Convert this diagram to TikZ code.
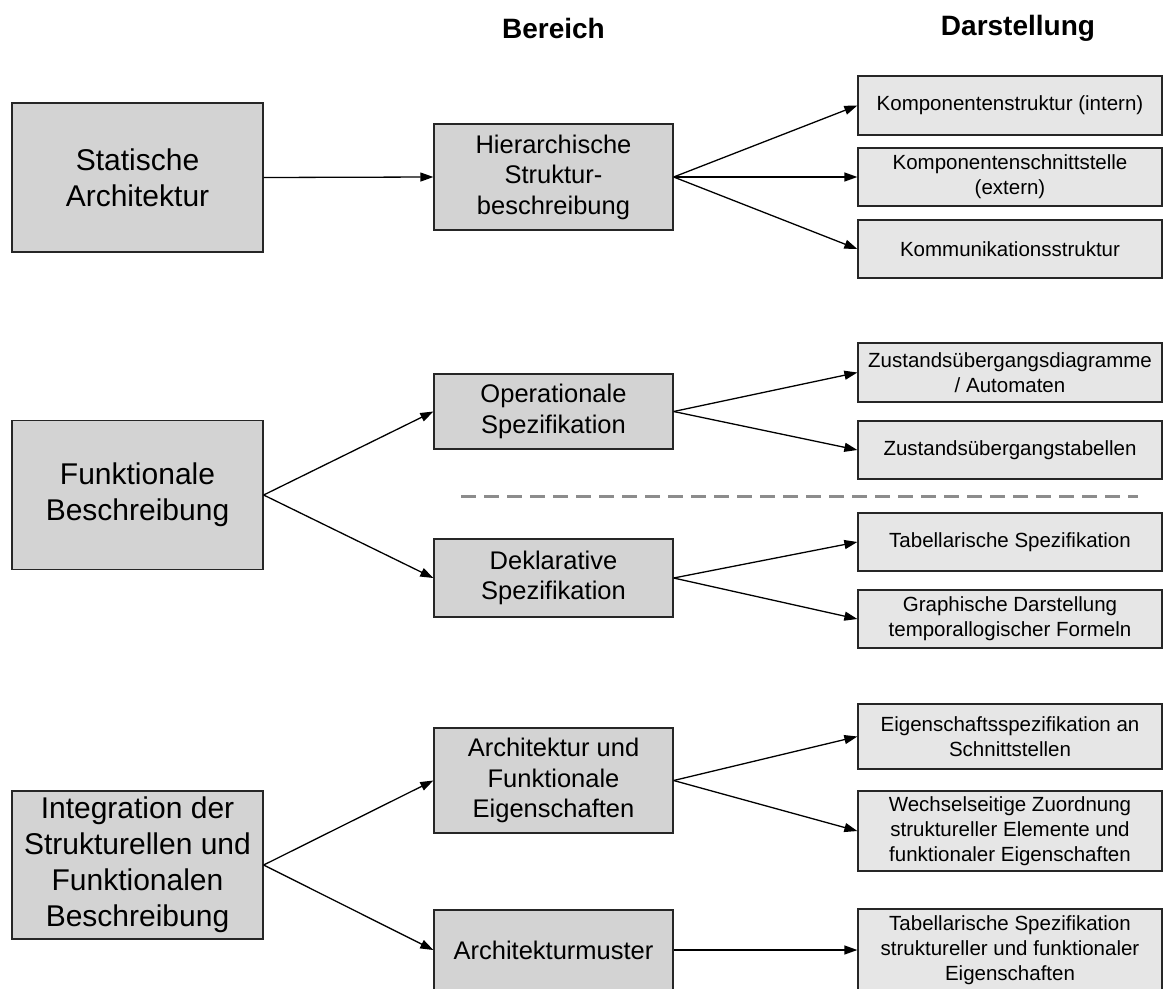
\documentclass[tikz,border=0pt]{standalone}
\usepackage{fontspec}
\setmainfont{Liberation Sans}
\usetikzlibrary{arrows.meta}
\definecolor{boxA}{RGB}{211,211,211}
\definecolor{boxB}{RGB}{230,230,230}
\definecolor{dashgray}{RGB}{140,140,140}
\tikzset{
  bigbox/.style={draw=black!85, line width=1.3pt, fill=boxA, minimum width=251pt, align=center, inner sep=0pt, font=\fontsize{30}{36}\selectfont},
  midbox/.style={draw=black!85, line width=1.3pt, fill=boxA, minimum width=239pt, align=center, inner sep=0pt, font=\fontsize{25.5}{30.5}\selectfont},
  repbox/.style={draw=black!85, line width=1.3pt, fill=boxB, minimum width=304pt, align=center, inner sep=0pt, font=\fontsize{20.5}{25}\selectfont},
  head/.style={font=\fontsize{28}{32}\selectfont\bfseries},
  conn/.style={line width=1.3pt, -{Triangle[length=13pt,width=9pt]}},
  sep/.style={draw=dashgray, line width=3pt, dash pattern=on 15pt off 8pt}
}
\begin{document}
\begin{tikzpicture}[x=1pt,y=-1pt]
\useasboundingbox (0,0) rectangle (1172,988);
% headers
\node[head] (hb) at (553.5,28) {Bereich};
\node[head] (hd) at (1018,28) {Darstellung};
% left boxes
\node[bigbox, minimum height=149pt] (sa) at (137.5,177.5) {Statische\\Architektur};
\node[bigbox, minimum height=149pt] (fb) at (137.5,495) {Funktionale\\Beschreibung};
\node[bigbox, minimum height=148pt] (ib) at (137.5,865) {Integration der\\Strukturellen und\\Funktionalen\\Beschreibung};
% middle boxes
\node[midbox, minimum height=106pt] (hs) at (553.5,177) {Hierarchische\\Struktur-\\beschreibung};
\node[midbox, minimum height=75pt] (os) at (553.5,411.5) {Operationale\\Spezifikation};
\node[midbox, minimum height=78pt] (ds) at (553.5,578) {Deklarative\\Spezifikation};
\node[midbox, minimum height=105pt] (af) at (553.5,780.5) {Architektur und\\Funktionale\\Eigenschaften};
\node[midbox, minimum height=80pt] (am) at (553.5,950) {Architekturmuster};
% right boxes
\node[repbox, minimum height=59pt] (r1) at (1010,105.5) {Komponentenstruktur (intern)};
\node[repbox, minimum height=58pt] (r2) at (1010,177) {Komponentenschnittstelle\\(extern)};
\node[repbox, minimum height=58pt] (r3) at (1010,249) {Kommunikationsstruktur};
\node[repbox, minimum height=59pt] (r4) at (1010,372.5) {Zustandsübergangsdiagramme\\/ Automaten};
\node[repbox, minimum height=58pt] (r5) at (1010,450) {Zustandsübergangstabellen};
\node[repbox, minimum height=58pt] (r6) at (1010,542) {Tabellarische Spezifikation};
\node[repbox, minimum height=58pt] (r7) at (1010,619) {Graphische Darstellung\\temporallogischer Formeln};
\node[repbox, minimum height=65pt] (r8) at (1010,736.5) {Eigenschaftsspezifikation an\\Schnittstellen};
\node[repbox, minimum height=80pt] (r9) at (1010,831) {Wechselseitige Zuordnung\\struktureller Elemente und\\funktionaler Eigenschaften};
\node[repbox, minimum height=82pt] (r10) at (1010,950) {Tabellarische Spezifikation\\struktureller und funktionaler\\Eigenschaften};
% dashed separator
\coordinate (d1) at (461,496);
\coordinate (d2) at (1138,496);
\draw[sep] (d1) -- (d2);
% connectors
\draw[conn] (sa.east) -- (hs.west);
\draw[conn] (fb.east) -- (os.west);
\draw[conn] (fb.east) -- (ds.west);
\draw[conn] (ib.east) -- (af.west);
\draw[conn] (ib.east) -- (am.west);
\draw[conn] (hs.east) -- (r1.west);
\draw[conn] (hs.east) -- (r2.west);
\draw[conn] (hs.east) -- (r3.west);
\draw[conn] (os.east) -- (r4.west);
\draw[conn] (os.east) -- (r5.west);
\draw[conn] (ds.east) -- (r6.west);
\draw[conn] (ds.east) -- (r7.west);
\draw[conn] (af.east) -- (r8.west);
\draw[conn] (af.east) -- (r9.west);
\draw[conn] (am.east) -- (r10.west);
\end{tikzpicture}
\end{document}
